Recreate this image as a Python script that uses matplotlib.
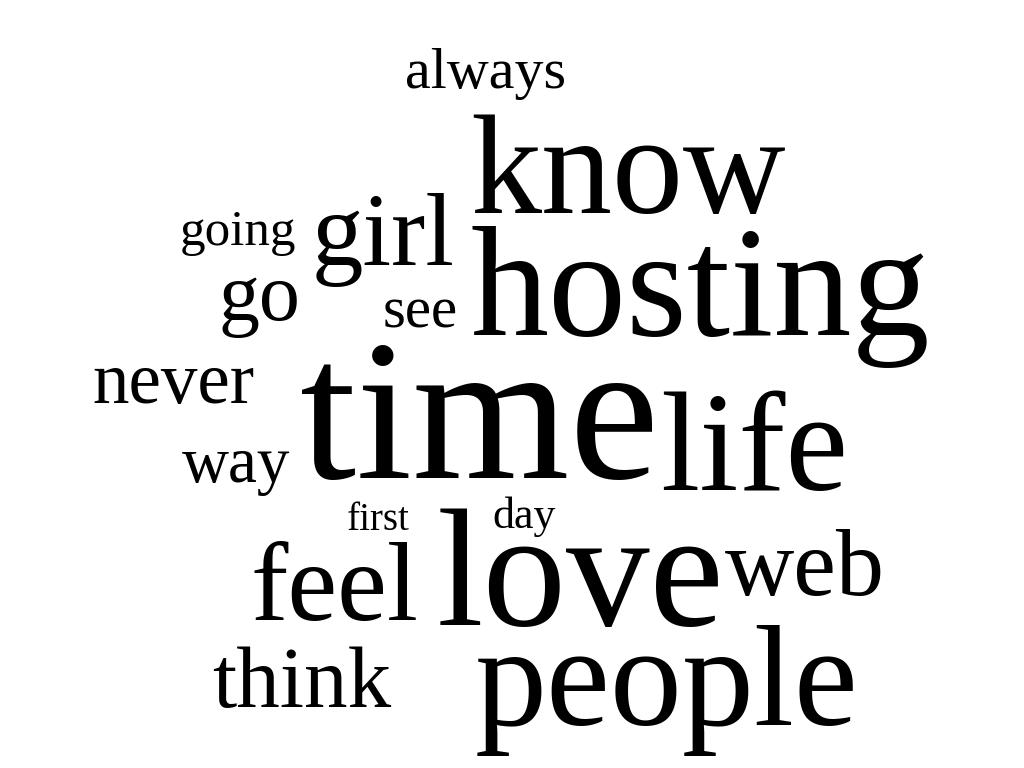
import matplotlib
matplotlib.use("Agg")
import matplotlib.pyplot as plt

# word cloud: word, left x (px), baseline y (px), em size (px)
words = ["always", "know", "going", "girl", "go", "see", "hosting", "never", "time",
         "life", "way", "first", "day", "feel", "love", "web", "think", "people"]
x_px = [405, 470, 180, 312, 218, 383, 470, 92, 300, 660, 182, 347, 492, 250, 437, 725, 212, 475]
y_px = [88, 213, 245, 265, 320, 327, 335, 403, 478, 490, 482, 530, 528, 620, 625, 595, 707, 725]
em_px = [58, 142, 51, 103, 82, 59, 156, 73, 202, 141, 65, 39, 44, 112, 167, 96, 87, 144]

fig = plt.figure(figsize=(10.24, 7.68), dpi=100)
ax = fig.add_axes([0, 0, 1, 1])
ax.set_xlim(0, 1024)
ax.set_ylim(768, 0)
ax.axis("off")

for w, x, y, s in zip(words, x_px, y_px, em_px):
    ax.text(x, y, w, fontsize=s * 0.72, family="Liberation Serif",
            ha="left", va="baseline", color="black")

fig.savefig("out.png", dpi=100, facecolor="white")
